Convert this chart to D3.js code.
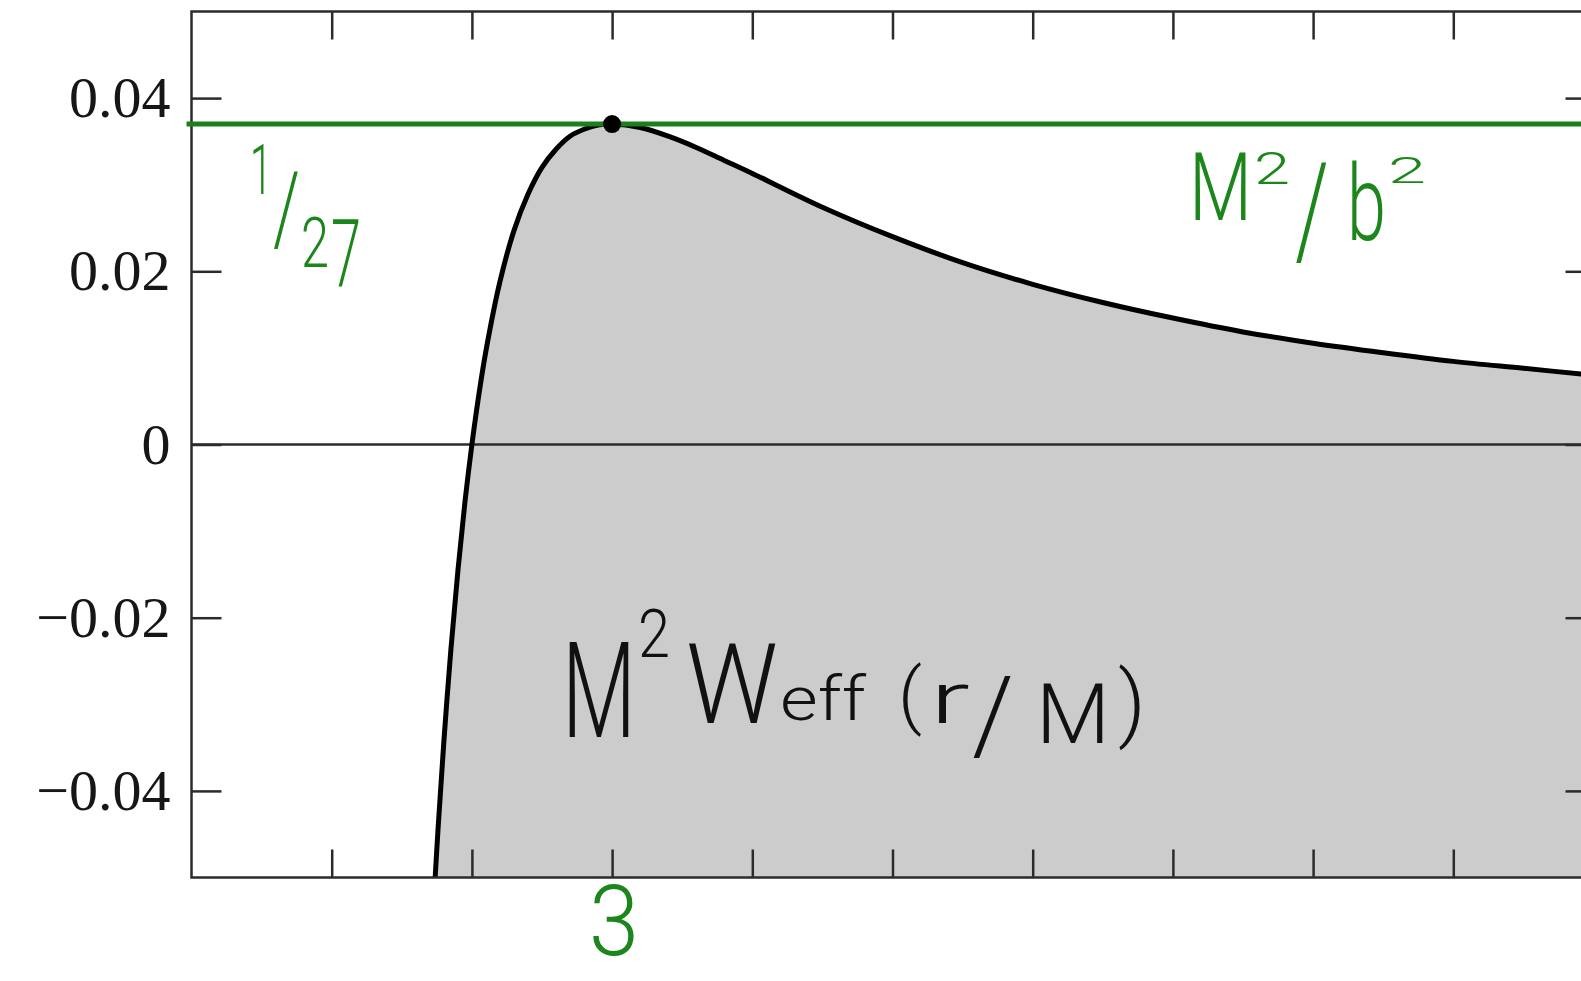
<!DOCTYPE html>
<meta charset="utf-8">
<style>

    body {
        margin: 0;
        background: #fff;
    }

    .axis text {
        font-family: "Liberation Serif", "Times New Roman", serif;
        font-size: 58px;
        fill: #161616;
    }

    .axis line {
        stroke: #2b2b2b;
        stroke-width: 2.5px;
    }

    .note {
        font-family: Roboto, "Open Sans", sans-serif;
        font-weight: 300;
    }

</style>
<svg width="1581" height="981"></svg>
<script src="https://cdnjs.cloudflare.com/ajax/libs/d3/7.8.5/d3.min.js"></script>
<script>

    // r/M samples and M^2 W_eff
    var rOverM = [1.73, 1.76, 1.8, 1.85, 1.9, 1.95, 2.0, 2.05, 2.1, 2.2, 2.3, 2.4, 2.5, 2.6, 2.7, 2.8, 2.9,
        3.0, 3.2, 3.4, 3.6, 3.8, 4.0, 4.5, 5.0, 5.5, 6.0, 6.5, 7.0, 7.5, 8.0, 8.5, 9.0, 9.5, 10.0];
    var weff = [-0.0522, -0.0440, -0.0343, -0.0237, -0.0146, -0.0067, 0, 0.0058, 0.0108, 0.0188, 0.0247, 0.0289, 0.0320, 0.0341, 0.0356, 0.0364, 0.0369,
        0.0370, 0.0366, 0.0356, 0.0343, 0.0328, 0.0313, 0.0274, 0.0240, 0.0210, 0.0185, 0.0164, 0.0146, 0.0130, 0.0117, 0.0106, 0.0096, 0.0088, 0.0080];

    var xTicks = [1, 2, 3, 4, 5, 6, 7, 8, 9];
    var yTicks = [-0.04, -0.02, 0, 0.02, 0.04];

    var peakR = 3,
        peakValue = 0.0370;   // 1/27, also the M^2/b^2 level

    var svg = d3.select("svg");

    var x = d3.scaleLinear().domain([0, 10]).range([191.5, 1593.5]),
        y = d3.scaleLinear().domain([-0.05, 0.05]).range([877.5, 11.5]);

    var points = rOverM.map(function (r, i) {
        return {r: r, v: weff[i]};
    });

    svg.append("defs").append("clipPath")
        .attr("id", "plot")
        .append("rect")
        .attr("x", x(0))
        .attr("y", y(0.05))
        .attr("width", x(10) - x(0))
        .attr("height", y(-0.05) - y(0.05));

    var plot = svg.append("g").attr("clip-path", "url(#plot)");

    var curve = d3.curveCatmullRom.alpha(0.5);

    var area = d3.area()
        .curve(curve)
        .x(function (d) {
            return x(d.r);
        })
        .y0(y(-0.05))
        .y1(function (d) {
            return y(d.v);
        });

    var line = d3.line()
        .curve(curve)
        .x(function (d) {
            return x(d.r);
        })
        .y(function (d) {
            return y(d.v);
        });

    plot.append("path")
        .datum(points)
        .attr("d", area)
        .attr("fill", "#cccccc");

    // zero line
    plot.append("line")
        .attr("x1", x(0))
        .attr("x2", x(10))
        .attr("y1", y(0))
        .attr("y2", y(0))
        .attr("stroke", "#2b2b2b")
        .attr("stroke-width", 2.4);

    // axes, ticks pointing inward
    svg.append("g")
        .attr("class", "axis")
        .attr("transform", "translate(" + x(0) + ",0)")
        .call(d3.axisLeft(y).tickValues(yTicks).tickSizeInner(-30).tickSizeOuter(0).tickPadding(21)
            .tickFormat(function (d) {
                return d === 0 ? "0" : d3.format(".2f")(d);
            }));

    svg.append("g")
        .attr("class", "axis")
        .attr("transform", "translate(" + x(10) + ",0)")
        .call(d3.axisRight(y).tickValues(yTicks).tickSizeInner(-28).tickSizeOuter(0).tickFormat(""));

    svg.append("g")
        .attr("class", "axis")
        .attr("transform", "translate(0," + y(-0.05) + ")")
        .call(d3.axisBottom(x).tickValues(xTicks).tickSizeInner(-28).tickSizeOuter(0).tickFormat(""));

    svg.append("g")
        .attr("class", "axis")
        .attr("transform", "translate(0," + y(0.05) + ")")
        .call(d3.axisTop(x).tickValues(xTicks).tickSizeInner(-28).tickSizeOuter(0).tickFormat(""));

    svg.selectAll(".axis .domain").remove();

    svg.append("rect")
        .attr("x", x(0))
        .attr("y", y(0.05))
        .attr("width", x(10) - x(0))
        .attr("height", y(-0.05) - y(0.05))
        .attr("fill", "none")
        .attr("stroke", "#2b2b2b")
        .attr("stroke-width", 2.5);

    plot.append("path")
        .datum(points)
        .attr("d", line)
        .attr("fill", "none")
        .attr("stroke", "#000")
        .attr("stroke-width", 5);

    // M^2/b^2 level
    svg.append("line")
        .attr("x1", x(0) - 5)
        .attr("x2", 1581)
        .attr("y1", y(peakValue))
        .attr("y2", y(peakValue))
        .attr("stroke", "#1b801b")
        .attr("stroke-width", 5);

    svg.append("circle")
        .attr("cx", x(peakR))
        .attr("cy", y(peakValue))
        .attr("r", 9)
        .attr("fill", "#000");

    // hand-written notes: [text, left, baseline, font size, width]
    // each piece is squeezed to its width with a scale, measured after layout
    function note(pieces, color) {
        var g = svg.append("g")
            .attr("class", "note")
            .attr("fill", color);
        pieces.forEach(function (d) {
            var t = g.append("text")
                .attr("font-size", d[3])
                .text(d[0]);
            var w = t.node().getComputedTextLength();
            t.attr("transform", "translate(" + d[1] + "," + d[2] + ") scale(" + (d[4] / w) + ",1)");
        });
    }

    var green = "#1c861c";

    note([
        ["1", 250, 194, 70, 22],
        ["/", 273, 243, 100, 27],
        ["2", 301, 267, 70, 28],
        ["7", 331, 287, 94, 30]
    ], green);

    note([
        ["M", 1189, 220, 94, 63],
        ["2", 1254, 184, 44, 36],
        ["/", 1295, 255, 130, 34],
        ["b", 1347, 240, 105, 39],
        ["2", 1388, 183, 36, 38]
    ], green);

    note([
        ["3", 589, 955, 98, 50]
    ], green);

    note([
        ["M", 562, 737, 134, 74],
        ["2", 638, 657, 66, 32],
        ["W", 686, 723, 112, 92],
        ["eff", 780, 720, 62, 86],
        ["(", 898, 720, 72, 24],
        ["r", 930, 723, 72, 40],
        ["/", 972, 752, 105, 42],
        ["M", 1036, 743, 84, 74],
        [")", 1118, 731, 83, 28]
    ], "#111");

</script>
